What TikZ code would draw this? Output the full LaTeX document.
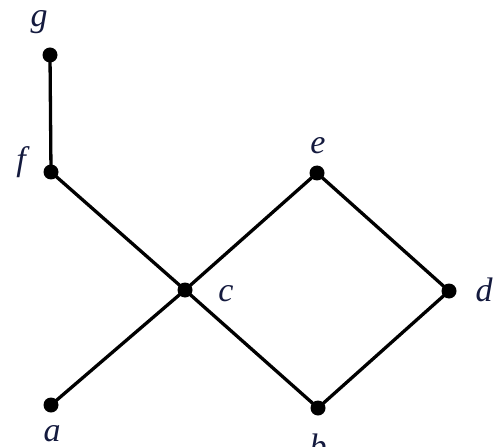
\documentclass[tikz,border=0pt]{standalone}
\usepackage{fontspec}
\setmainfont{Liberation Serif}
\definecolor{lbl}{RGB}{20,26,62}
\begin{document}
\begin{tikzpicture}[x=1pt,y=-1pt,
  vtx/.style={circle,fill=black,inner sep=0pt,minimum size=15pt},
  edge/.style={line width=3.3pt,black},
  lab/.style={text=lbl,font=\fontsize{34}{34}\selectfont\itshape,inner sep=0pt,anchor=center}]
\useasboundingbox (0,0) rectangle (494,446);
\node[vtx] (g) at (50,55) {};
\node[vtx] (f) at (51,172) {};
\node[vtx] (e) at (317,173) {};
\node[vtx] (c) at (185,290) {};
\node[vtx] (d) at (449,291) {};
\node[vtx] (a) at (51,405) {};
\node[vtx] (b) at (318,408) {};
\draw[edge] (g.center) -- (f.center);
\draw[edge] (f.center) -- (c.center);
\draw[edge] (c.center) -- (b.center);
\draw[edge] (a.center) -- (c.center);
\draw[edge] (c.center) -- (e.center);
\draw[edge] (e.center) -- (d.center);
\draw[edge] (b.center) -- (d.center);
\node[lab] (lg) at (39,22) {g};
\node[lab] (lf) at (21,162) {f};
\node[lab] (le) at (318,146) {e};
\node[lab] (lc) at (226,294) {c};
\node[lab] (ld) at (484,290) {d};
\node[lab] (la) at (52,434) {a};
\node[lab] (lb) at (318,446) {b};
\end{tikzpicture}
\end{document}
